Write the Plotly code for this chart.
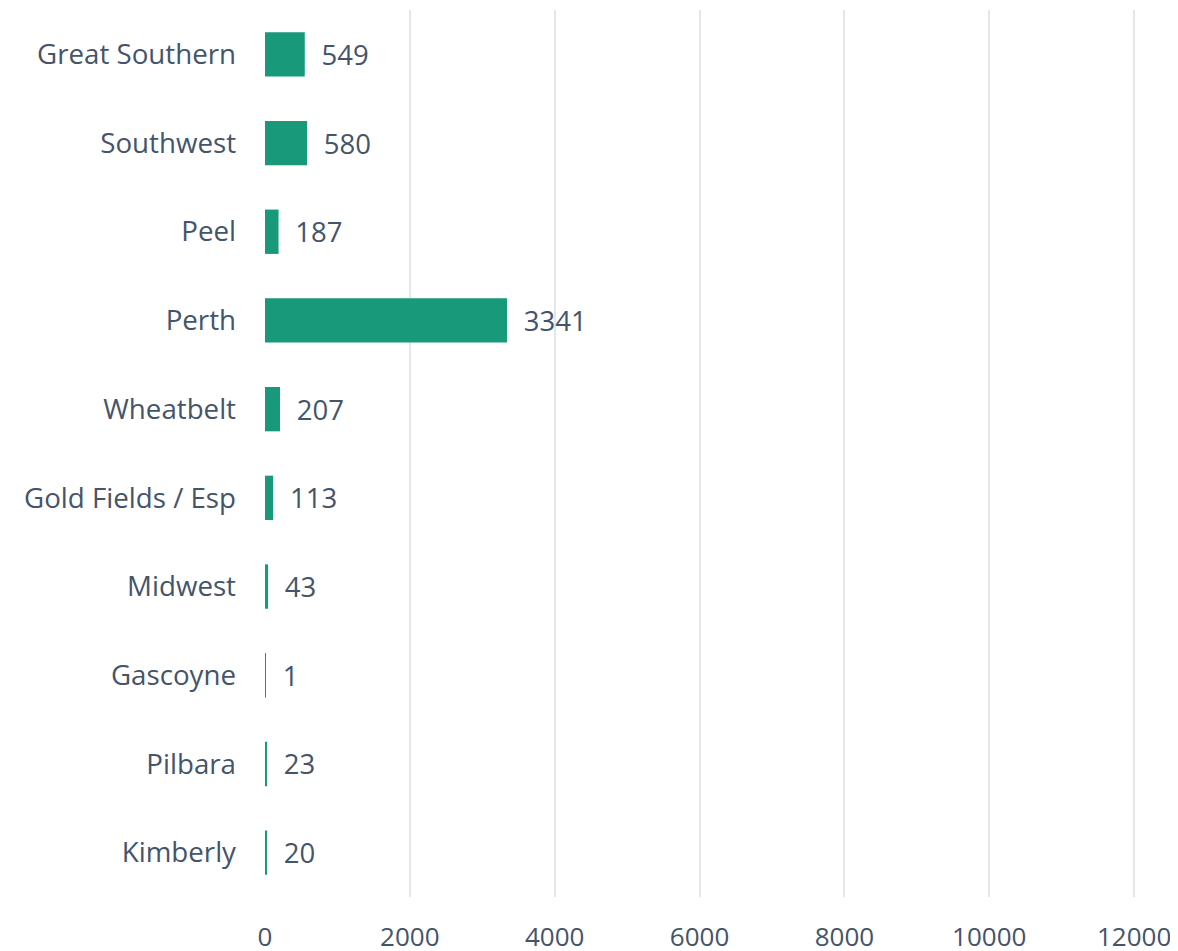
import plotly.graph_objects as go

regions = ["Great Southern", "Southwest", "Peel", "Perth", "Wheatbelt",
           "Gold Fields / Esp", "Midwest", "Gascoyne", "Pilbara", "Kimberly"]
counts = [549, 580, 187, 3341, 207, 113, 43, 1, 23, 20]
x_ticks = [0, 2000, 4000, 6000, 8000, 10000, 12000]

text_col = "#44546a"
bar_col = "#17997a"

fig = go.Figure(
    go.Bar(
        y=regions,
        x=counts,
        orientation="h",
        width=0.5,
        marker=dict(color=bar_col, line=dict(width=0)),
        text=counts,
        texttemplate="\u2002%{text}",
        textposition="outside",
        textfont=dict(size=27.5, color=text_col),
        cliponaxis=False,
        hoverinfo="x+y",
    )
)

# the page body adds an 8px margin, so the figure sits 8px in from the corner
# range runs a little past 12000 so plotly still draws the last gridline
fig.update_layout(
    width=1170,
    height=943,
    margin=dict(l=257, r=41, t=2, b=54),
    plot_bgcolor="white",
    paper_bgcolor="white",
    font=dict(family="Open Sans, Lato, sans-serif", size=27, color=text_col),
    showlegend=False,
    xaxis=dict(
        range=[0, 12040],
        tickvals=x_ticks,
        ticktext=[str(v) for v in x_ticks],
        showgrid=True,
        gridcolor="#e3e7ec",
        gridwidth=2,
        zeroline=False,
        showline=False,
        ticks="",
        ticklabelstandoff=22,
        automargin=False,
        tickfont=dict(size=26, color=text_col),
    ),
    yaxis=dict(
        categoryorder="array",
        categoryarray=regions[::-1],
        showgrid=False,
        zeroline=False,
        showline=False,
        ticks="",
        ticklabelstandoff=28,
        automargin=False,
        tickfont=dict(size=27.7, color=text_col),
    ),
)

fig.write_html("out.html")
